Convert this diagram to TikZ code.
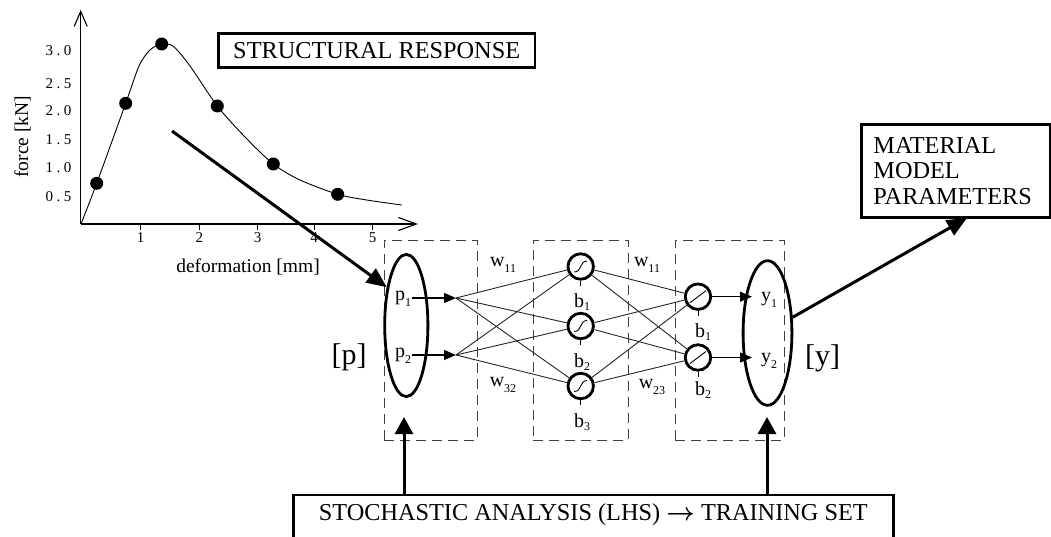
\documentclass[tikz,border=0pt]{standalone}
\usepackage{fontspec}
\setmainfont{Liberation Serif}
\usetikzlibrary{arrows.meta,shapes.geometric}
\newcommand{\lowsub}[2]{#1\raisebox{-6pt}{\fontsize{12}{12}\selectfont #2}}
\newcommand{\bsub}[1]{b\raisebox{-3pt}{\fontsize{12}{12}\selectfont #1}}
\newcommand{\ticknum}[2]{#1\kern3.5pt.\kern3.5pt#2}
\begin{document}
\begin{tikzpicture}[x=1pt,y=-1pt,
  lbl/.style={font=\fontsize{24.3}{25.5}\selectfont},
  thickbox/.style={draw, line width=2.8pt},
  dbox/.style={draw=black!75, dash pattern=on 10pt off 6pt, line width=0.9pt, inner sep=0pt, outer sep=0pt},
  conn/.style={line width=0.9pt, draw=black!85},
  bigarrow/.style={line width=3pt, -{Triangle[length=20pt,width=17pt]}},
  uparrow/.style={line width=3pt, -{Triangle[length=17pt,width=18pt]}},
  smallarrow/.style={line width=1.2pt, -{Triangle[length=12pt,width=10pt]}},
  neuron/.style={circle, draw, line width=2.8pt, minimum size=25.5pt, inner sep=0pt},
  oval/.style={ellipse, draw, line width=2.8pt, inner sep=0pt},
  small/.style={font=\fontsize{20}{20}\selectfont, inner sep=1pt},
  ticklbl/.style={font=\fontsize{15}{15}\selectfont, inner sep=0pt},
  dot/.style={circle, fill, inner sep=0pt, minimum size=13pt},
  axis/.style={line width=1.1pt},
]
\useasboundingbox (0,0) rectangle (1051,537);
\clip (0,0) rectangle (1051,537);

% ---------------- plot ----------------
\coordinate (O) at (80.7,224);
\coordinate (yend) at (80.7,10);
\coordinate (xend) at (418,224);
\draw[axis, -{Straight Barb[length=15pt,width=13pt]}] (O) -- (yend);
\draw[axis, -{Straight Barb[length=18pt,width=13pt]}] (O) -- (xend);
\foreach \x/\l in {140.7/1,199.3/2,257.7/3,314/4,372.7/5}{
  \draw[line width=1pt] (\x,224) -- (\x,230);
  \node[ticklbl] (xt\l) at (\x,238) {\l};
}
\foreach \y/\a/\b in {196.7/0/5,167.7/1/0,140/1/5,111/2/0,83.3/2/5,51/3/0}{
  \node[ticklbl] (yt\a\b) at (58.5,\y) {\ticknum{\a}{\b}};
}
\node[font=\fontsize{19.5}{19.5}\selectfont, rotate=90] (ylab) at (22.5,136.7) {force [kN]};
\node[font=\fontsize{19.5}{19.5}\selectfont] (xlab) at (248,266.5) {deformation [mm]};
\draw[line width=0.9pt] plot[smooth, tension=0.5] coordinates {(81,224) (96.7,183.3) (125.7,103.3) (139,66) (150,50) (161.7,44) (173.5,46.5) (190,66) (217.3,106) (245,137) (273.3,164) (300,180) (337.7,194.3) (366.7,200) (401.7,205)};
\foreach \x/\y/\i in {96.7/183.3/1,125.7/103.3/2,161.7/44/3,217.3/106/4,273.3/164/5,337.7/194.3/6}{
  \node[dot] (d\i) at (\x,\y) {};
}
\node[thickbox, lbl, minimum width=316.7pt, minimum height=34.4pt, inner sep=0pt] (sr) at (376.7,50.5) {STRUCTURAL RESPONSE};

% ---------------- network ----------------
\node[dbox, anchor=north west, minimum width=93pt, minimum height=200pt] (box1) at (384,240) {};
\node[dbox, anchor=north west, minimum width=95pt, minimum height=200pt] (box2) at (533,240) {};
\node[dbox, anchor=north west, minimum width=109pt, minimum height=200pt] (box3) at (675,240) {};

\coordinate (j1) at (456,298);
\coordinate (j2) at (456,355);
\node[neuron] (h1) at (580.7,266.5) {};
\node[neuron] (h2) at (580.7,326) {};
\node[neuron] (h3) at (580.7,386) {};
\node[neuron] (o1) at (698,296.7) {};
\node[neuron] (o2) at (698,357.5) {};

\foreach \j in {j1,j2}{\foreach \h in {h1,h2,h3}{\draw[conn] (\j) -- (\h);}}
\foreach \h in {h1,h2,h3}{\foreach \o in {o1,o2}{\draw[conn] (\h) -- (\o);}}

\foreach \h in {h1,h2,h3}{
  \begin{scope}[shift={(\h.center)}]
    \draw[line width=0.9pt] (-6.5,5.5) .. controls (1.5,5.5) and (-1.5,-5.5) .. (6.5,-5.5);
  \end{scope}
  \draw[line width=1pt] (\h.south) -- ++(0,5);
}
\foreach \o in {o1,o2}{
  \begin{scope}[shift={(\o.center)}]
    \draw[line width=0.9pt] (-8,6) -- (8,-6);
  \end{scope}
  \draw[line width=1pt] (\o.south) -- ++(0,5);
}

\node[oval, minimum width=43.2pt, minimum height=142.2pt] (ie) at (406.3,325.5) {};
\node[oval, minimum width=48.8pt, minimum height=144.6pt] (oe) at (767.5,333) {};

\node[small] (pl1) at (403,299) {\lowsub{p}{1}};
\node[small] (pl2) at (403,356) {\lowsub{p}{2}};
\draw[smallarrow] (pl1.east |- j1) -- (j1);
\draw[smallarrow] (pl2.east |- j2) -- (j2);

\coordinate (yt1) at (752,296.7);
\coordinate (yt2) at (752,357.5);
\draw[smallarrow] (o1) -- (yt1);
\draw[smallarrow] (o2) -- (yt2);
\node[small] (yl1) at (769,300) {\lowsub{y}{1}};
\node[small] (yl2) at (769,361) {\lowsub{y}{2}};

\node[small] (wa) at (503,265) {\lowsub{w}{11}};
\node[small] (wb) at (503,385) {\lowsub{w}{32}};
\node[small] (wc) at (647,265) {\lowsub{w}{11}};
\node[small] (wd) at (652,387) {\lowsub{w}{23}};

\node[small] (hb1) at (582,302) {\bsub{1}};
\node[small] (hb2) at (582,362) {\bsub{2}};
\node[small] (hb3) at (582,422) {\bsub{3}};
\node[small] (ob1) at (703,332) {\bsub{1}};
\node[small] (ob2) at (703,390) {\bsub{2}};

\node[font=\fontsize{30}{30}\selectfont, inner sep=0pt] (pb) at (349,357) {[p]};
\node[font=\fontsize{30}{30}\selectfont, inner sep=0pt] (yb) at (822.5,358) {[y]};

% ---------------- outer boxes and arrows ----------------
\coordinate (pa) at (172,131);
\draw[bigarrow] (pa) -- (ie.117);

\node[thickbox, lbl, anchor=north west, minimum width=189pt, minimum height=92.7pt,
      inner xsep=11.7pt, text width=165pt, align=left] (mat) at (860,123.3)
      {MATERIAL\\MODEL\\PARAMETERS};
\coordinate (mtip) at (967,218);
\draw[bigarrow] (oe.32) -- (mtip);

\node[lbl, minimum width=600pt, minimum height=39pt, inner sep=0pt, outer sep=0pt] (stoch) at (593.3,514.5)
  {STOCHASTIC ANALYSIS (LHS) {\boldmath$\rightarrow$} TRAINING SET};
\draw[line width=2.8pt] ([yshift=-20pt]stoch.south west) |- (stoch.north east) -- ([yshift=-20pt]stoch.south east);

\coordinate (ta) at (404,417);
\coordinate (tb) at (767,417);
\draw[uparrow] (ta |- stoch.north) -- (ta);
\draw[uparrow] (tb |- stoch.north) -- (tb);
\end{tikzpicture}
\end{document}
